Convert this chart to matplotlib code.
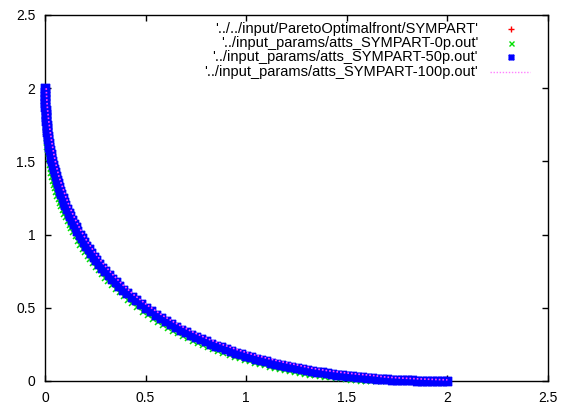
import matplotlib
matplotlib.use("Agg")
import matplotlib.pyplot as plt
from matplotlib.path import Path

plt.rcParams['font.family'] = ['Liberation Sans', 'DejaVu Sans']

# Pareto optimal front of SYMPART (f1, f2)
front_f1 = [0.0, 0.0007, 0.0029, 0.0067, 0.0122, 0.0195, 0.0286, 0.0399, 0.0534, 0.0692,
            0.0877, 0.1091, 0.1335, 0.1614, 0.1932, 0.2293, 0.2702, 0.3167, 0.3696, 0.4302,
            0.5, 0.575, 0.65, 0.725, 0.8, 0.875, 0.95, 1.025, 1.1, 1.175,
            1.25, 1.325, 1.4, 1.475, 1.55, 1.625, 1.7, 1.775, 1.85, 1.925, 2.0]
front_f2 = [2.0, 1.925, 1.85, 1.775, 1.7, 1.625, 1.55, 1.475, 1.4, 1.325,
            1.25, 1.175, 1.1, 1.025, 0.95, 0.875, 0.8, 0.725, 0.65, 0.575,
            0.5, 0.4302, 0.3696, 0.3167, 0.2702, 0.2293, 0.1932, 0.1614, 0.1335, 0.1091,
            0.0877, 0.0692, 0.0534, 0.0399, 0.0286, 0.0195, 0.0122, 0.0067, 0.0029, 0.0007, 0.0]

# attainment surface, 0%
atts0_f1 = [0.0000, 0.0001, 0.0003, 0.0007, 0.0013, 0.0020, 0.0029, 0.0040, 0.0053,
            0.0050, 0.0055, 0.0062, 0.0070, 0.0080, 0.0092, 0.0105, 0.0123, 0.0144, 0.0176, 0.0212, 0.0249,
            0.0269, 0.0281, 0.0306, 0.0334, 0.0384, 0.0437, 0.0492, 0.0551, 0.0613, 0.0677,
            0.0745, 0.0816, 0.0891, 0.0969, 0.1050, 0.1135, 0.1224, 0.1317, 0.1414, 0.1516,
            0.1642, 0.1752, 0.1867, 0.1987, 0.2113, 0.2243, 0.2379, 0.2522, 0.2670, 0.2825,
            0.2987, 0.3156, 0.3332, 0.3516, 0.3709, 0.3911, 0.4122, 0.4344, 0.4576,
            0.487, 0.512, 0.537, 0.562, 0.587, 0.612, 0.637, 0.662, 0.687, 0.712,
            0.737, 0.762, 0.787, 0.812, 0.837, 0.862, 0.887,
            0.919, 0.944, 0.969, 0.994, 1.019, 1.044, 1.069, 1.094, 1.119, 1.144,
            1.169, 1.194, 1.219, 1.244, 1.269, 1.294, 1.319, 1.344, 1.369, 1.394,
            1.422, 1.447, 1.472, 1.497, 1.522, 1.547, 1.572, 1.597, 1.622, 1.647, 1.672, 1.697,
            1.725, 1.750, 1.775, 1.800, 1.825, 1.850, 1.875, 1.900, 1.925, 1.950, 1.975, 2.000]
atts0_f2 = [2.000, 1.975, 1.950, 1.925, 1.900, 1.875, 1.850, 1.825, 1.800,
            1.775, 1.750, 1.725, 1.700, 1.675, 1.650, 1.625, 1.600, 1.575, 1.550, 1.525, 1.500,
            1.472, 1.445, 1.418, 1.392, 1.367, 1.342, 1.317, 1.292, 1.267, 1.242,
            1.217, 1.192, 1.167, 1.142, 1.117, 1.092, 1.067, 1.042, 1.017, 0.992,
            0.955, 0.930, 0.905, 0.880, 0.855, 0.830, 0.805, 0.780, 0.755, 0.730,
            0.705, 0.680, 0.655, 0.630, 0.605, 0.580, 0.555, 0.530, 0.505,
            0.4740, 0.4496, 0.4264, 0.4042, 0.3831, 0.3629, 0.3436, 0.3252, 0.3076, 0.2907,
            0.2745, 0.2590, 0.2442, 0.2299, 0.2163, 0.2033, 0.1907,
            0.1787, 0.1672, 0.1562, 0.1456, 0.1354, 0.1257, 0.1164, 0.1075, 0.0990, 0.0909,
            0.0831, 0.0756, 0.0685, 0.0617, 0.0553, 0.0491, 0.0432, 0.0377, 0.0324, 0.0274,
            0.0266, 0.0221, 0.0179, 0.0139, 0.0102, 0.0066, 0.0034, 0.0003, 0.0, 0.0, 0.0, 0.0,
            0.0, 0.0, 0.0, 0.0, 0.0, 0.0, 0.0, 0.0, 0.0, 0.0, 0.0, 0.0]

# attainment surface, 50%
atts50_f1 = [0.0000, 0.0001, 0.0003, 0.0007, 0.0013, 0.0020, 0.0029, 0.0040, 0.0053, 0.0067,
             0.0083, 0.0102, 0.0122, 0.0144, 0.0168, 0.0195, 0.0223, 0.0254, 0.0286, 0.0322,
             0.0359, 0.0399, 0.0441, 0.0486, 0.0534, 0.0584, 0.0637, 0.0692, 0.0751, 0.0813,
             0.0877, 0.0945, 0.1016, 0.1091, 0.1169, 0.1250, 0.1335, 0.1424, 0.1517, 0.1614,
             0.1716, 0.1822, 0.1932, 0.2047, 0.2167, 0.2293, 0.2423, 0.2559, 0.2702, 0.2850,
             0.3005, 0.3167, 0.3336, 0.3512, 0.3696, 0.3889, 0.4091, 0.4302, 0.4524, 0.4756,
             0.500, 0.525, 0.550, 0.575, 0.600, 0.625, 0.650, 0.675, 0.700, 0.725,
             0.750, 0.775, 0.800, 0.825, 0.850, 0.875, 0.900, 0.925, 0.950, 0.975,
             1.000, 1.025, 1.050, 1.075, 1.100, 1.125, 1.150, 1.175, 1.200, 1.225,
             1.250, 1.275, 1.300, 1.325, 1.350, 1.375, 1.400, 1.425, 1.450, 1.475,
             1.500, 1.525, 1.550, 1.575, 1.600, 1.625, 1.650, 1.675, 1.700, 1.725,
             1.750, 1.775, 1.800, 1.825, 1.850, 1.875, 1.900, 1.925, 1.950, 1.975, 2.000]
atts50_f2 = [2.000, 1.975, 1.950, 1.925, 1.900, 1.875, 1.850, 1.825, 1.800, 1.775,
             1.750, 1.725, 1.700, 1.675, 1.650, 1.625, 1.600, 1.575, 1.550, 1.525,
             1.500, 1.475, 1.450, 1.425, 1.400, 1.375, 1.350, 1.325, 1.300, 1.275,
             1.250, 1.225, 1.200, 1.175, 1.150, 1.125, 1.100, 1.075, 1.050, 1.025,
             1.000, 0.975, 0.950, 0.925, 0.900, 0.875, 0.850, 0.825, 0.800, 0.775,
             0.750, 0.725, 0.700, 0.675, 0.650, 0.625, 0.600, 0.575, 0.550, 0.525,
             0.5000, 0.4756, 0.4524, 0.4302, 0.4091, 0.3889, 0.3696, 0.3512, 0.3336, 0.3167,
             0.3005, 0.2850, 0.2702, 0.2559, 0.2423, 0.2293, 0.2167, 0.2047, 0.1932, 0.1822,
             0.1716, 0.1614, 0.1517, 0.1424, 0.1335, 0.1250, 0.1169, 0.1091, 0.1016, 0.0945,
             0.0877, 0.0813, 0.0751, 0.0692, 0.0637, 0.0584, 0.0534, 0.0486, 0.0441, 0.0399,
             0.0359, 0.0322, 0.0286, 0.0254, 0.0223, 0.0195, 0.0168, 0.0144, 0.0122, 0.0102,
             0.0083, 0.0067, 0.0053, 0.0040, 0.0029, 0.0020, 0.0013, 0.0007, 0.0003, 0.0001, 0.0000]

# attainment surface, 100%
atts100_f1 = [0.006, 0.0087, 0.0129, 0.0187, 0.0262, 0.0345, 0.0436, 0.0549, 0.0684, 0.0852,
              0.1037, 0.1251, 0.1495, 0.1774, 0.2062, 0.2423, 0.2832, 0.3297, 0.3826, 0.4432,
              0.509, 0.584, 0.659, 0.734, 0.809, 0.880, 0.955, 1.030, 1.105, 1.180,
              1.255, 1.327, 1.402, 1.477, 1.552, 1.627, 1.700, 1.775, 1.850, 1.925, 2.000]
atts100_f2 = [2.0, 1.925, 1.85, 1.775, 1.7, 1.627, 1.552, 1.477, 1.402, 1.331,
              1.256, 1.181, 1.106, 1.031, 0.962, 0.887, 0.812, 0.737, 0.662, 0.587,
              0.518, 0.448, 0.388, 0.335, 0.288, 0.250, 0.214, 0.182, 0.155, 0.130,
              0.109, 0.087, 0.071, 0.058, 0.047, 0.038, 0.026, 0.020, 0.015, 0.011, 0.008]

series_labels = ["'../../input/ParetoOptimalfront/SYMPART'",
                 "'../input_params/atts_SYMPART-0p.out'",
                 "'../input_params/atts_SYMPART-50p.out'",
                 "'../input_params/atts_SYMPART-100p.out'"]
ticks = [0, 0.5, 1, 1.5, 2, 2.5]
tick_labels = ["0", "0.5", "1", "1.5", "2", "2.5"]

# boxed star: square outline with plus and cross inside
star = Path([(-1, -1), (1, -1), (1, 1), (-1, 1), (-1, -1),
             (-1, 0), (1, 0), (0, -1), (0, 1), (-1, -1), (1, 1), (-1, 1), (1, -1)],
            [Path.MOVETO, Path.LINETO, Path.LINETO, Path.LINETO, Path.CLOSEPOLY]
            + [Path.MOVETO, Path.LINETO] * 4)

RED, GREEN, BLUE, PINK = '#ff0000', '#00e000', '#0000ff', '#ff44ff'

fig = plt.figure(figsize=(5.68, 4.07), dpi=100)
ax = fig.add_axes([45 / 568, 26 / 407, 503 / 568, 366 / 407])

ax.plot(front_f1, front_f2, ls='none', marker='+', ms=4, mew=1, color=RED, clip_on=False, zorder=2)
ax.plot(atts0_f1, atts0_f2, ls='none', marker='x', ms=3.8, mew=1.1, color=GREEN, clip_on=False, zorder=3)
ax.plot(atts50_f1, atts50_f2, ls='none', marker=star, ms=6.0, mew=1.0, color=BLUE, clip_on=False, zorder=4)
ax.plot(atts100_f1, atts100_f2, ls=(0, (1, 1.2)), lw=1.2, color=PINK, zorder=5)

ax.set_xlim(0, 2.5)
ax.set_ylim(0, 2.5)
ax.set_xticks(ticks)
ax.set_xticklabels(tick_labels)
ax.set_yticks(ticks)
ax.set_yticklabels(tick_labels)
ax.tick_params(direction='in', length=4.5, width=1, top=True, right=True,
               labelsize=10, colors='black')
ax.tick_params(axis='x', pad=7)
ax.tick_params(axis='y', pad=7)
for sp in ax.spines.values():
    sp.set_linewidth(1)
    sp.set_color('black')

# key in the upper right corner
row_y = [0.963, 0.923, 0.884, 0.844]
text_x = 0.861
mark_x = 0.926
styles = [dict(marker='+', ms=4, mew=1, color=RED),
          dict(marker='x', ms=3.6, mew=1, color=GREEN),
          dict(marker=star, ms=3.4, mew=1, color=BLUE, mfc='none')]
for i, (lab, y) in enumerate(zip(series_labels, row_y)):
    ax.text(text_x, y, lab, transform=ax.transAxes, ha='right', va='center',
            fontsize=10.5, zorder=6)
    if i < 3:
        ax.plot([mark_x], [y], ls='none', transform=ax.transAxes, clip_on=False,
                zorder=6, **styles[i])
    else:
        ax.plot([0.885, 0.964], [y, y], transform=ax.transAxes, ls=(0, (1, 1.2)),
                lw=1, color='#ff80ff', zorder=6)

fig.savefig('out.png', dpi=100)
